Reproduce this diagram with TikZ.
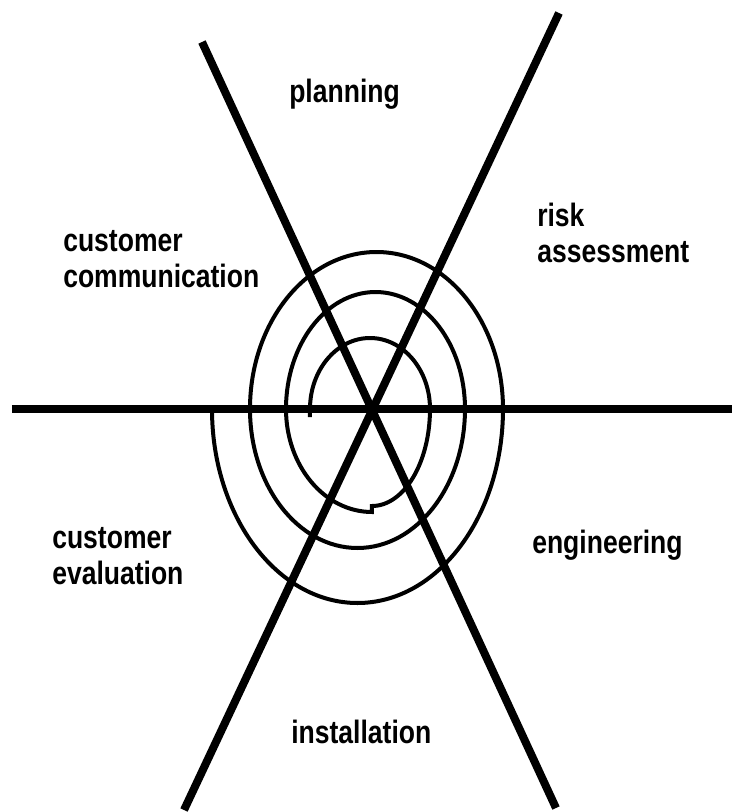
\documentclass[tikz,border=0pt]{standalone}
\usepackage{fontspec}
\newfontfamily\phasefont[FakeStretch=0.82]{Liberation Sans}
\begin{document}
\begin{tikzpicture}[x=0.025cm,y=0.025cm,
    axis/.style={line width=0.2cm},
    spiral/.style={line width=0.1cm},
    phase/.style={font=\phasefont\bfseries\fontsize{23}{25.5}\selectfont, align=left, inner sep=0pt, anchor=base west}]
    \useasboundingbox (-372,409) rectangle (360,-403);

    % Achsen
    \coordinate (hub) at (0,0);
    \coordinate (w) at (-360,0);
    \coordinate (e) at (360,0);
    \coordinate (nw) at (-170,367);
    \coordinate (se) at (184,-399);
    \coordinate (ne) at (187,396);
    \coordinate (sw) at (-188,-401);
    \draw[axis] (w) -- (e);
    \draw[axis] (nw) -- (se);
    \draw[axis] (ne) -- (sw);

    % Spirale
    \draw[spiral] (-62,-8) -- (-62,0)
        arc[start angle=180, end angle=0, x radius=60, y radius=71]
        arc[start angle=0, end angle=-90, x radius=58, y radius=97]
        -- (0,-103)
        arc[start angle=-90, end angle=-180, x radius=86, y radius=103]
        arc[start angle=180, end angle=0, x radius=89.5, y radius=117]
        arc[start angle=0, end angle=-180, x radius=107.5, y radius=139]
        arc[start angle=180, end angle=0, x radius=126.5, y radius=157]
        arc[start angle=0, end angle=-180, x radius=145.5, y radius=194];

    % Phasen (Grundlinie der letzten Zeile)
    \node[phase] (planning) at (-83,307) {planning};
    \node[phase] (risk) at (165,147) {risk\\assessment};
    \node[phase] (engineering) at (160,-144) {engineering};
    \node[phase] (installation) at (-81,-334) {installation};
    \node[phase] (evaluation) at (-320,-175) {customer\\evaluation};
    \node[phase] (communication) at (-309,122) {customer\\communication};
\end{tikzpicture}
\end{document}
